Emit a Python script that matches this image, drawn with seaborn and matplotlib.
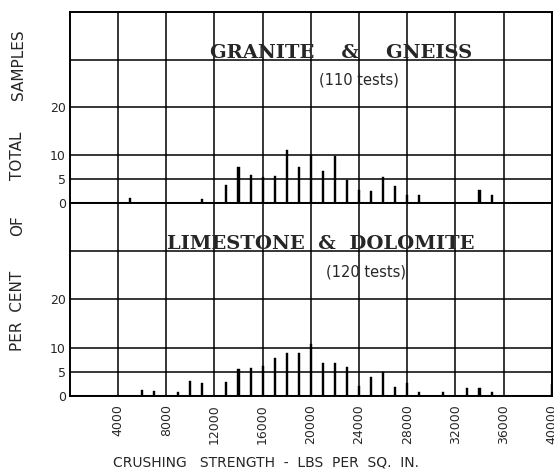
import matplotlib
matplotlib.use("Agg")
import matplotlib.pyplot as plt
import seaborn as sns
import pandas as pd

# per cent of total samples at each crushing strength (lbs per sq. in.)
granite_strength = [5000, 11000, 13000, 14000, 15000, 16000, 17000, 18000, 19000, 20000,
                    21000, 22000, 23000, 24000, 25000, 26000, 27000, 28000, 29000, 34000, 35000]
granite_pct = [1.0, 0.8, 3.7, 7.5, 5.8, 5.5, 5.6, 11.0, 7.5, 10.0,
               6.6, 9.8, 4.7, 2.6, 2.4, 5.4, 3.6, 1.7, 1.7, 2.8, 1.7]

lime_strength = [6000, 7000, 9000, 10000, 11000, 13000, 14000, 15000, 16000, 17000, 18000,
                 19000, 20000, 21000, 22000, 23000, 24000, 25000, 26000, 27000, 28000,
                 29000, 31000, 33000, 34000, 35000, 40000]
lime_pct = [1.3, 1.0, 0.8, 3.0, 2.7, 2.9, 5.5, 5.8, 6.2, 7.9, 8.8,
            8.8, 10.7, 6.7, 6.7, 6.0, 2.0, 3.8, 4.9, 1.8, 2.7,
            0.7, 0.7, 1.6, 1.6, 0.7, 2.5]

x_ticks = [4000, 8000, 12000, 16000, 20000, 24000, 28000, 32000, 36000, 40000]
y_ticks = [0, 5, 10, 20]
grid_y = [5, 10, 20, 30]

sns.set_style("white")
plt.rcParams["font.family"] = ["DejaVu Sans"]

fig = plt.figure(figsize=(5.54, 4.74), dpi=100)
ax_top = fig.add_axes([0.126, 0.572, 0.87, 0.403])
ax_bot = fig.add_axes([0.126, 0.165, 0.87, 0.407])


def draw_panel(ax, xs, ys, title, title_x, sub, sub_x):
    df = pd.DataFrame({"strength": xs, "pct": ys})
    sns.barplot(data=df, x="strength", y="pct", native_scale=True, color="black",
                width=0.17, saturation=1, errorbar=None, edgecolor="black",
                linewidth=0.3, ax=ax, zorder=3)
    ax.set_xlim(0, 40000)
    ax.set_ylim(0, 40)
    for g in grid_y:
        ax.axhline(g, color="black", lw=1.1, zorder=1)
    for xt in x_ticks:
        ax.axvline(xt, color="black", lw=1.1, zorder=1)
    ax.axhline(0, color="black", lw=2.2, zorder=4)
    for s in ax.spines.values():
        s.set_color("black")
        s.set_linewidth(1.4)
    ax.set_yticks(y_ticks)
    ax.set_yticklabels([str(t) for t in y_ticks], fontsize=9)
    ax.tick_params(axis="y", length=0, pad=3)
    ax.set_xlabel("")
    ax.set_ylabel("")
    ax.text(title_x, 30.4, title, family="DejaVu Serif", fontweight="bold",
            fontsize=14, ha="center", va="baseline")
    ax.text(sub_x, 25.7, sub, fontsize=10.5, ha="center", va="center")


draw_panel(ax_top, granite_strength, granite_pct,
           "GRANITE    &    GNEISS", 22500, "(110 tests)", 24000)
draw_panel(ax_bot, lime_strength, lime_pct,
           "LIMESTONE  &  DOLOMITE", 20800, "(120 tests)", 24600)

ax_top.set_xticks(x_ticks)
ax_top.set_xticklabels([])
ax_top.tick_params(axis="x", length=0)

ax_bot.set_xticks(x_ticks)
ax_bot.set_xticklabels([str(t) for t in x_ticks], rotation=90, fontsize=9)
ax_bot.tick_params(axis="x", length=0, pad=6)

fig.text(266 / 554, 1 - 463 / 474, "CRUSHING   STRENGTH  -  LBS  PER  SQ.  IN.",
         ha="center", va="center", fontsize=10)

# y axis title, lettered in spaced pieces
for word, yc in [("PER  CENT", 311), ("OF", 226), ("TOTAL", 156), ("SAMPLES", 65)]:
    fig.text(18 / 554, 1 - yc / 474, word, rotation=90, ha="center", va="center", fontsize=11)

fig.savefig("out.png", dpi=100)
